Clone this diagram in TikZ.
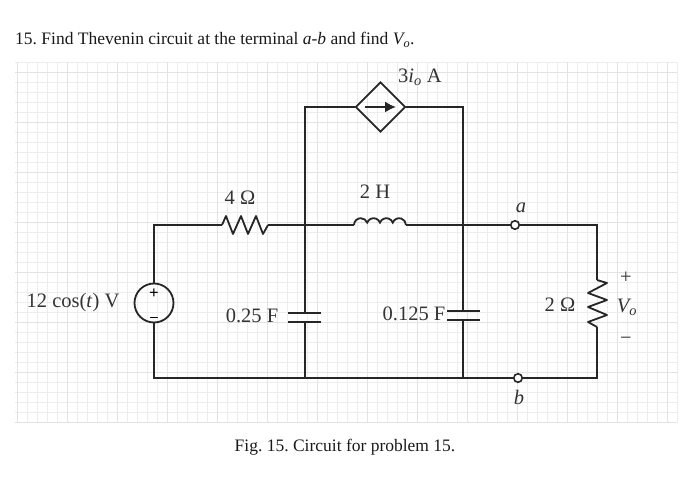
\documentclass[tikz,border=0pt]{standalone}
\usepackage{fontspec}
\setmainfont{Liberation Serif}
\usetikzlibrary{shapes.geometric,arrows.meta}
\tikzset{
  wire/.style={line width=1.8pt,black!85},
  gridfine/.style={line width=0.5pt,black!7},
  gridbold/.style={line width=0.6pt,black!11},
  lbl/.style={inner sep=0pt,text=black!80,font=\fontsize{20.5}{24}\selectfont},
  txt/.style={inner sep=0pt,text=black!90,font=\fontsize{17.5}{20}\selectfont},
  terminal/.style={circle,draw,line width=1.6pt,black!85,fill=white,minimum size=8.5pt,inner sep=0pt}
}
\frenchspacing
\begin{document}
\begin{tikzpicture}[x=1pt,y=-1pt]
\useasboundingbox (0,0) rectangle (700,486);

\foreach \gx in {17,27,...,677} \draw[gridfine] (\gx,62) -- (\gx,423);
\foreach \gy in {62,72,...,422} \draw[gridfine] (15,\gy) -- (677,\gy);
\foreach \gx in {17,67,...,677} \draw[gridbold] (\gx,62) -- (\gx,423);
\foreach \gy in {72,122,...,422} \draw[gridbold] (15,\gy) -- (677,\gy);

\coordinate (tl) at (154,225);
\coordinate (bl) at (154,378);
\coordinate (tm) at (305,225);
\coordinate (bm) at (305,378);
\coordinate (um) at (305,107);
\coordinate (un) at (463,107);
\coordinate (tn) at (463,225);
\coordinate (bn) at (463,378);
\coordinate (tr) at (597,225);
\coordinate (br) at (597,378);

\node[circle,draw,wire,minimum size=39pt,inner sep=0pt] (vs) at (154,303) {};
\node[diamond,draw,wire,aspect=1,minimum width=50pt,minimum height=50pt,inner sep=0pt] (cs) at (380.5,107) {};
\node[terminal] (ta) at (515,225) {};
\node[terminal] (tb) at (518,378) {};

\coordinate (ra) at (222,225);
\coordinate (rb) at (268,225);
\coordinate (la) at (354,225);
\coordinate (lb) at (406,225);
\coordinate (rc) at (597,280);
\coordinate (rd) at (597,327);
\coordinate (ca) at (305,313);
\coordinate (cb) at (305,322);
\coordinate (cc) at (463,311);
\coordinate (cd) at (463,320);

\draw[wire] (vs) -- (tl) -- (ra);
\draw[wire] (vs) -- (bl) -- (bm);
\draw[wire] (rb) -- (tm) -- (la);
\draw[wire] (lb) -- (tn) -- (ta) -- (tr) -- (rc);
\draw[wire] (rd) -- (br) -- (tb) -- (bn) -- (bm);
\draw[wire] (tm) -- (um) -- (cs);
\draw[wire] (cs) -- (un) -- (tn);
\draw[wire] (tm) -- (ca);
\draw[wire] (cb) -- (bm);
\draw[wire] (tn) -- (cc);
\draw[wire] (cd) -- (bn);

\draw[wire,line join=round] (ra) -- ++(4,-9) -- ++(7,18) -- ++(8,-18) -- ++(7,18) -- ++(8,-18) -- ++(7,18) -- ++(5,-9);
\draw[wire,line join=round] (rc) -- ++(10,3) -- ++(-19,10) -- ++(19,7) -- ++(-19,7) -- ++(19,8) -- ++(-19,7) -- ++(9,5);
\draw[wire] (la) arc[start angle=180,end angle=20,radius=6.8pt]
  arc[start angle=160,end angle=20,radius=6.8pt]
  arc[start angle=160,end angle=20,radius=6.8pt]
  arc[start angle=160,end angle=0,radius=6.8pt];

\draw[wire] (288,313) -- (321,313);
\draw[wire] (288,322) -- (321,322);
\draw[wire] (447,311) -- (480,311);
\draw[wire] (447,320) -- (480,320);

\draw[-{Latex[length=11pt,width=11pt]},wire] (365,107) -- (396,107);
\node[inner sep=0pt,font=\bfseries\fontsize{17}{17}\selectfont] (vp) at (154,294) {+};
\node[inner sep=0pt,font=\bfseries\fontsize{15}{15}\selectfont] (vm) at (154,319) {\char"2013};

\node[txt,anchor=west] (title) at (15,40) {15. Find Thevenin circuit at the terminal \textit{a-b} and find \textit{V\textsubscript{o}}.};
\node[txt] (cap) at (345,447) {Fig. 15. Circuit for problem 15.};
\node[lbl] (l3i) at (420,77) {3\textit{i\textsubscript{o}} A};
\node[lbl] (l4) at (240,198) {4 Ω};
\node[lbl] (l2h) at (375,192) {2 H};
\node[lbl] (lv) at (73,303) {12 cos(\textit{t}) V};
\node[lbl] (l025) at (252,316) {0.25 F};
\node[lbl] (l0125) at (414,314) {0.125 F};
\node[lbl] (l2) at (560,305) {2 Ω};
\node[lbl] (la1) at (521,208) {\textit{a}};
\node[lbl] (lb1) at (519,397) {\textit{b}};
\node[lbl] (lp) at (626,278) {+};
\node[lbl] (lo) at (627,307) {\textit{V\textsubscript{o}}};
\node[lbl] (ln) at (626,341) {\char"2212};
\end{tikzpicture}
\end{document}
